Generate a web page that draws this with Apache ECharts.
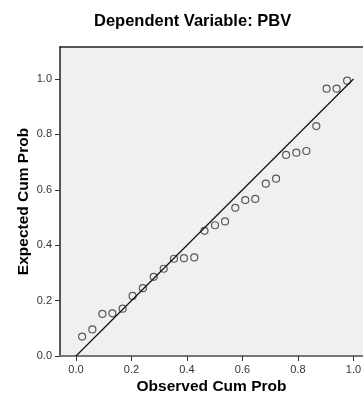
<!DOCTYPE html>
<html>
<head>
<meta charset="utf-8">
<script src="https://cdn.jsdelivr.net/npm/echarts@6/dist/echarts.min.js"></script>
<style>
html,body{margin:0;padding:0;background:#fff;}
#c{width:363px;height:397px;}
</style>
</head>
<body>
<div id="c"></div>
<script>
// Observed cumulative probability (x) and expected cumulative probability (y)
var observedCumProb = [0.022, 0.059, 0.095, 0.131, 0.168, 0.204, 0.241, 0.280, 0.316, 0.353, 0.389, 0.426, 0.463, 0.501, 0.537, 0.574, 0.610, 0.646, 0.684, 0.721, 0.757, 0.794, 0.830, 0.866, 0.903, 0.939, 0.977];
var expectedCumProb = [0.070, 0.096, 0.152, 0.154, 0.171, 0.217, 0.245, 0.286, 0.315, 0.351, 0.353, 0.356, 0.452, 0.472, 0.486, 0.535, 0.563, 0.567, 0.622, 0.640, 0.726, 0.734, 0.740, 0.830, 0.965, 0.965, 0.994];
// Reference diagonal
var refLineX = [0, 1];
var refLineY = [0, 1];
// Tick values
var xTicks = [0, 0.2, 0.4, 0.6, 0.8, 1.0];
var yTicks = [0, 0.2, 0.4, 0.6, 0.8, 1.0];

var titleText = 'Dependent Variable: PBV';
var xName = 'Observed Cum Prob';
var yName = 'Expected Cum Prob';

var points = observedCumProb.map(function (x, i) { return [x, expectedCumProb[i]]; });
var line = refLineX.map(function (x, i) { return [x, refLineY[i]]; });

var FONT = '"Liberation Sans", Arial, sans-serif';
var XMIN = -0.0577, XMAX = 1.0342;
var chart = echarts.init(document.getElementById('c'), null, {renderer: 'canvas'});
chart.setOption({
  animation: false,
  backgroundColor: '#ffffff',
  title: {
    text: titleText,
    left: 89,
    top: 8,
    textStyle: {fontFamily: FONT, fontSize: 16.5, fontWeight: 'bold', color: '#000'}
  },
  grid: {
    left: 60,
    top: 47,
    right: 0,
    bottom: 41,
    outerBoundsMode: 'none',
    containLabel: false,
    show: true,
    backgroundColor: '#f0f0f0',
    borderWidth: 0
  },
  xAxis: [{
    type: 'value',
    min: XMIN,
    max: XMAX,
    name: xName,
    nameLocation: 'middle',
    nameGap: 23,
    nameMoveOverlap: false,
    nameTextStyle: {fontFamily: FONT, fontSize: 15.5, fontWeight: 'bold', color: '#000'},
    axisLine: {show: true, onZero: false, lineStyle: {color: '#777', width: 2}},
    axisTick: {show: true, length: 5, customValues: xTicks, lineStyle: {color: '#333', width: 1}},
    axisLabel: {
      customValues: xTicks,
      fontFamily: FONT, fontSize: 11, color: '#333', margin: 8,
      formatter: function (v) { return v.toFixed(1); }
    },
    splitLine: {show: false}
  }, {
    type: 'value',
    position: 'top',
    min: XMIN,
    max: XMAX,
    axisLine: {show: true, onZero: false, lineStyle: {color: '#222', width: 1.5}},
    axisTick: {show: false},
    axisLabel: {show: false},
    splitLine: {show: false}
  }],
  yAxis: {
    type: 'value',
    min: 0,
    max: 1.1155,
    name: yName,
    nameLocation: 'middle',
    nameGap: 28,
    nameMoveOverlap: false,
    nameTextStyle: {fontFamily: FONT, fontSize: 15.5, fontWeight: 'bold', color: '#000'},
    axisLine: {show: true, onZero: false, lineStyle: {color: '#222', width: 1.5}},
    axisTick: {show: true, length: 5, customValues: yTicks, lineStyle: {color: '#333', width: 1}},
    axisLabel: {
      customValues: yTicks,
      fontFamily: FONT, fontSize: 11, color: '#333', margin: 8,
      formatter: function (v) { return v.toFixed(1); }
    },
    splitLine: {show: false}
  },
  series: [
    {
      type: 'line',
      data: line,
      symbol: 'none',
      lineStyle: {color: '#111', width: 1.2},
      silent: true,
      z: 3
    },
    {
      type: 'scatter',
      data: points,
      symbol: 'circle',
      symbolSize: 7,
      itemStyle: {color: 'rgba(0,0,0,0)', borderColor: '#333', borderWidth: 1.2},
      z: 2
    }
  ]
});
</script>
</body>
</html>
